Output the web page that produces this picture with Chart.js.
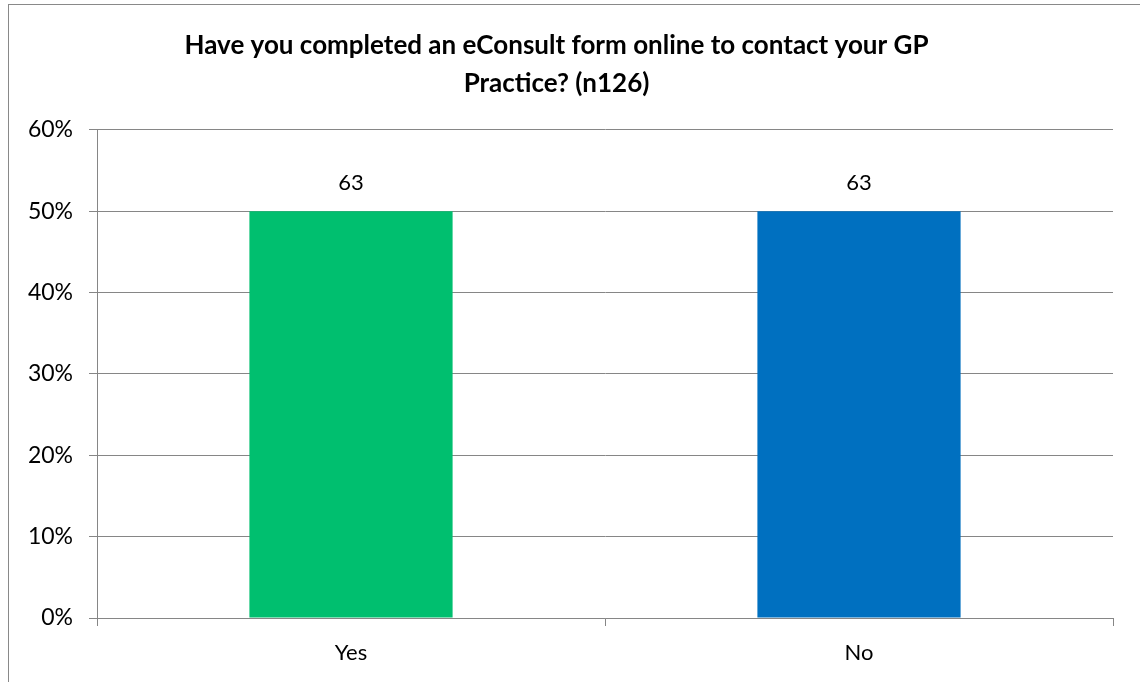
<!DOCTYPE html>
<html>
<head>
<meta charset="utf-8">
<script src="https://cdn.jsdelivr.net/npm/chart.js@4/dist/chart.umd.min.js"></script>
<style>
  html, body { margin: 0; padding: 0; background: #fff; }
  #wrap { position: relative; width: 1140px; height: 682px; overflow: hidden; }
  #frame { position: absolute; left: 8px; top: 4px; width: 1160px; height: 700px; border: 1px solid #898989; box-sizing: border-box; }
  canvas { position: absolute; left: 0; top: 0; }
</style>
</head>
<body>
<div id="wrap">
  <div id="frame"></div>
  <canvas id="c" width="1140" height="682"></canvas>
</div>
<script>
const titleLines = ["Have you completed an eConsult form online to contact your GP", "Practice? (n126)"];
const categories = ["Yes", "No"];
const percentValues = [0.5, 0.5];
const countLabels = ["63", "63"];
const barColors = ["#00BF6F", "#0070C0"];
const yTicks = [0, 0.1, 0.2, 0.3, 0.4, 0.5, 0.6];

const FONT = "Lato, 'Open Sans', sans-serif";

const valueLabels = {
  id: 'valueLabels',
  afterDatasetsDraw(chart) {
    const ctx = chart.ctx;
    const meta = chart.getDatasetMeta(0);
    ctx.save();
    ctx.font = "22px " + FONT;
    ctx.fillStyle = "#000";
    ctx.textAlign = "center";
    ctx.textBaseline = "bottom";
    meta.data.forEach((bar, i) => {
      ctx.fillText(countLabels[i], bar.x, bar.y - 17);
    });
    ctx.restore();
  }
};

new Chart(document.getElementById('c'), {
  type: 'bar',
  data: {
    labels: categories,
    datasets: [{
      data: percentValues,
      backgroundColor: barColors,
      borderWidth: 0,
      categoryPercentage: 1.0,
      barPercentage: 0.4
    }]
  },
  options: {
    responsive: false,
    animation: false,
    layout: { padding: { left: 0, right: 27, top: 0, bottom: 0 } },
    plugins: {
      legend: { display: false },
      tooltip: { enabled: false },
      title: {
        display: true,
        text: titleLines,
        color: "#000",
        font: { family: FONT, size: 26, weight: 'bold', lineHeight: 1.46 },
        padding: { top: 27, bottom: 27 }
      }
    },
    scales: {
      x: {
        grid: { display: true, drawOnChartArea: false, drawTicks: true, tickLength: 8, offset: true, color: "#868686" },
        border: { display: true, color: "#868686", width: 1 },
        ticks: { color: "#000", font: { family: FONT, size: 22 }, padding: 14 },
        afterFit(scale) { scale.height = 64; }
      },
      y: {
        min: 0, max: 0.6,
        afterBuildTicks(scale) { scale.ticks = yTicks.map(v => ({ value: v })); },
        grid: { color: "#868686", tickLength: 8, drawTicks: true },
        border: { display: true, color: "#868686", width: 1 },
        ticks: {
          color: "#000",
          font: { family: FONT, size: 23 },
          padding: 16,
          callback: v => Math.round(v * 100) + "%"
        },
        afterFit(scale) { scale.width = 97; }
      }
    }
  },
  plugins: [valueLabels]
});
</script>
</body>
</html>
